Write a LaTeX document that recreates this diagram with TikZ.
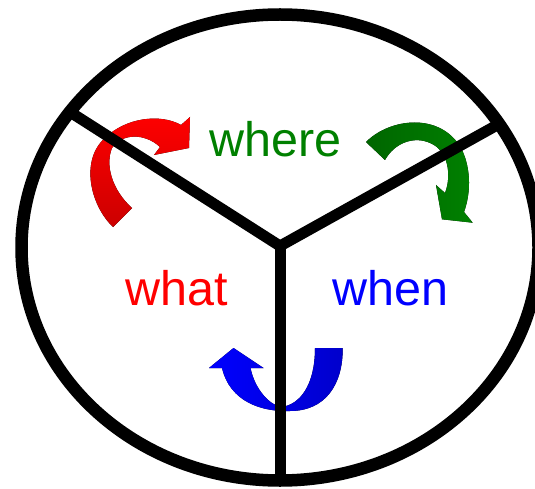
\documentclass[tikz,border=0pt]{standalone}
\usepackage{fontspec}
\setmainfont{Liberation Sans}
\definecolor{whatred}{RGB}{255,0,0}
\definecolor{whatdark}{RGB}{204,0,0}
\definecolor{wheregreen}{RGB}{0,128,0}
\definecolor{wheredark}{RGB}{0,102,0}
\definecolor{whenblue}{RGB}{0,0,255}
\definecolor{whendark}{RGB}{0,0,204}
\begin{document}
\begin{tikzpicture}[x=1pt, y=-1pt, line join=round,
  every node/.style={font=\fontsize{48.5}{58}\selectfont, inner sep=0pt, anchor=base},
  divider/.style={line width=11pt},
  rim/.style={line width=12.5pt}]
  \useasboundingbox (0,0) rectangle (535,489);
  % points where the three dividers meet the rim
  \coordinate (hub) at (280,246);
  \coordinate (ul) at (70,112);
  \coordinate (ur) at (499,124);
  \coordinate (bot) at (280,481);
  % curved arrows (under the dividers)
  \fill[top color=whatred, bottom color=whatdark]
    (113,227) .. controls (90,205) and (80,160) .. (105,138)
    .. controls (125,118) and (160,113) .. (181,125)
    -- (190,117) -- (189,148) -- (154,155) -- (160,147)
    .. controls (145,133) and (122,133) .. (112,148)
    .. controls (105,165) and (112,190) .. (132,208) -- cycle;
  \fill[left color=wheredark, right color=wheregreen]
    (366,142) .. controls (390,118) and (440,112) .. (461,148)
    .. controls (470,165) and (472,190) .. (464,212)
    -- (472.7,222.7) -- (442,219.3) -- (436,185) -- (445,193)
    .. controls (452,175) and (448,150) .. (430,143)
    .. controls (415,136) and (395,142) .. (385,160) -- cycle;
  \fill[left color=whenblue, right color=whendark]
    (315,348) -- (342.7,348) .. controls (343,385) and (325,411) .. (290,411)
    .. controls (262,412) and (230,402) .. (222,368)
    -- (209,368) -- (233.5,348) -- (263.5,368) -- (250.5,368)
    .. controls (255,390) and (270,405) .. (281,407)
    .. controls (300,405) and (315,385) .. (315,348) -- cycle;
  % rim and dividers
  \draw[divider] (ul) -- (hub) -- (ur);
  \draw[divider] (hub) -- (bot);
  \draw[rim] (280,247.5) ellipse (258.5 and 233);
  % labels
  \node[text=wheregreen] (where) at (275.5,157) {where};
  \node[text=whatred] (what) at (176.5,305) {what};
  \node[text=whenblue] (when) at (390.5,305) {when};
\end{tikzpicture}
\end{document}
